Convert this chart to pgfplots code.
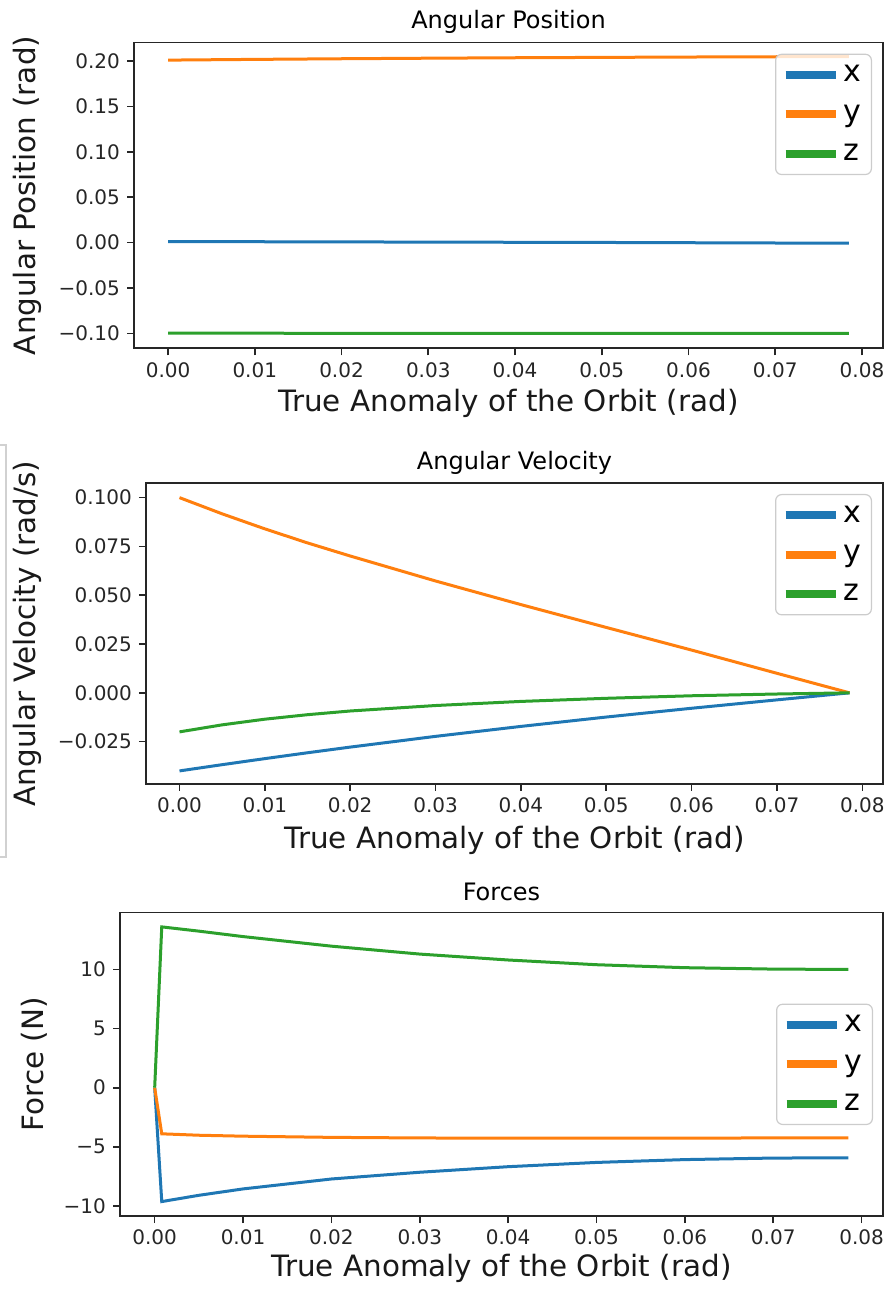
\documentclass[border=0pt]{standalone}
\usepackage{pgfplots}
\pgfplotsset{compat=1.18}
\usepackage{pgfplotstable}
\usepackage{fontspec}
\setmainfont{DejaVu Sans}

\definecolor{tabblue}{HTML}{1F77B4}
\definecolor{taborange}{HTML}{FF7F0E}
\definecolor{tabgreen}{HTML}{2CA02C}

% angular position
\pgfplotstableread{
t x y z
0      0.0011  0.2010 -0.0999
0.01   0.0009  0.2018 -0.0999
0.02   0.0007  0.2025 -0.1000
0.03   0.0005  0.2031 -0.1000
0.04   0.0003  0.2036 -0.1000
0.05   0.0001  0.2040 -0.1001
0.06  -0.0002  0.2044 -0.1001
0.07  -0.0005  0.2047 -0.1001
0.0785 -0.0007 0.2049 -0.1001
}\angpos

% angular velocity
\pgfplotstableread{
t x y z
0      -0.0400 0.1000 -0.0200
0.005  -0.0368 0.0917 -0.0164
0.01   -0.0337 0.0840 -0.0135
0.015  -0.0307 0.0768 -0.0112
0.02   -0.0278 0.0701 -0.0093
0.03   -0.0223 0.0573 -0.0065
0.04   -0.0172 0.0452 -0.0044
0.05   -0.0124 0.0335 -0.0028
0.06   -0.0079 0.0219 -0.0015
0.07   -0.0036 0.0100 -0.0006
0.0785  0.0000 0.0000  0.0000
}\angvel

% forces
\pgfplotstableread{
t x y z
0       0.00  0.00  0.00
0.0008 -9.63 -3.90 13.60
0.005  -9.10 -4.02 13.24
0.01   -8.56 -4.10 12.78
0.02   -7.72 -4.20 11.97
0.03   -7.15 -4.25 11.30
0.04   -6.68 -4.27 10.80
0.05   -6.32 -4.27 10.40
0.06   -6.08 -4.26 10.15
0.07   -5.95 -4.25 10.03
0.0785 -5.93 -4.24 10.00
}\forces

\pgfplotsset{
  mpl/.style={
    scale only axis,
    anchor=south west,
    xmin=-0.003925, xmax=0.082425,
    scaled x ticks=false, scaled y ticks=false,
    axis line style={black!85, line width=0.8pt},
    tick style={black!85, line width=0.8pt},
    tick align=outside,
    major tick length=3.5pt,
    xtick pos=bottom, ytick pos=left,
    xtick={0,0.01,0.02,0.03,0.04,0.05,0.06,0.07,0.08},
    xticklabels={0.00,0.01,0.02,0.03,0.04,0.05,0.06,0.07,0.08},
    ticklabel style={font=\fontsize{10}{12}\selectfont, text=black!85},
    every axis title shift=0pt,
    title style={font=\fontsize{12}{14}\selectfont, anchor=center},
    label style={font=\fontsize{14.7}{17}\selectfont, text=black!90},
    xlabel={True Anomaly of the Orbit (rad)},
    cycle list={{tabblue, line width=1.5pt},{taborange, line width=1.5pt},{tabgreen, line width=1.5pt}},
    legend image code/.code={\draw[#1, line width=4pt] (0pt,0pt) -- (25pt,0pt);},
    legend style={draw=black!20, line width=0.6pt, rounded corners=3pt, fill=white,
      fill opacity=0.8, text opacity=1, font=\fontsize{15}{18}\selectfont,
      inner xsep=3pt, inner ysep=3.5pt, row sep=6pt, cells={anchor=west}},
  },
}

\begin{document}
\begin{tikzpicture}
\path[use as bounding box] (0pt,0pt) rectangle (444pt,644.5pt);
\draw[black!18, line width=0.6pt] (0pt,422pt) -- (3pt,422pt) -- (3pt,216pt) -- (0pt,216pt);

\begin{axis}[mpl, at={(67pt,470.35pt)}, width=374.5pt, height=152.8pt,
  ymin=-0.1165, ymax=0.2202,
  ytick={-0.10,-0.05,0,0.05,0.10,0.15,0.20},
  yticklabels={−0.10,−0.05,0.00,0.05,0.10,0.15,0.20},
  title={Angular Position},
  title style={at={(axis description cs:0.5,1.0687)}},
  ylabel={Angular Position (rad)},
  ylabel style={at={(axis description cs:-0.1429,0.5)}, anchor=center},
  xlabel style={at={(axis description cs:0.5,-0.179)}, anchor=center},
  legend style={at={(1,1)}, anchor=north east, xshift=-5.5pt, yshift=-5.5pt}]
\addplot table[x=t, y=x] {\angpos};
\addplot table[x=t, y=y] {\angpos};
\addplot table[x=t, y=z] {\angpos};
\legend{x,y,z}
\end{axis}

\begin{axis}[mpl, at={(73pt,252.5pt)}, width=368.5pt, height=150.5pt,
  ymin=-0.0467, ymax=0.1075,
  ytick={-0.025,0,0.025,0.05,0.075,0.1},
  yticklabels={−0.025,0.000,0.025,0.050,0.075,0.100},
  title={Angular Velocity},
  title style={at={(axis description cs:0.5,1.0664)}},
  ylabel={Angular Velocity (rad/s)},
  ylabel style={at={(axis description cs:-0.1615,0.5)}, anchor=center},
  xlabel style={at={(axis description cs:0.5,-0.186)}, anchor=center},
  legend style={at={(1,1)}, anchor=north east, xshift=-5.5pt, yshift=-5.5pt}]
\addplot table[x=t, y=x] {\angvel};
\addplot table[x=t, y=y] {\angvel};
\addplot table[x=t, y=z] {\angvel};
\legend{x,y,z}
\end{axis}

\begin{axis}[mpl, at={(60pt,36.5pt)}, width=381.5pt, height=151.65pt,
  ymin=-10.85, ymax=14.8,
  ytick={-10,-5,0,5,10},
  yticklabels={−10,−5,0,5,10},
  title={Forces},
  title style={at={(axis description cs:0.5,1.068)}},
  ylabel={Force (N)},
  ylabel style={at={(axis description cs:-0.1127,0.5)}, anchor=center},
  xlabel style={at={(axis description cs:0.5,-0.1714)}, anchor=center},
  legend style={at={(1,0.5)}, anchor=east, xshift=-5pt}]
\addplot table[x=t, y=x] {\forces};
\addplot table[x=t, y=y] {\forces};
\addplot table[x=t, y=z] {\forces};
\legend{x,y,z}
\end{axis}
\end{tikzpicture}
\end{document}
